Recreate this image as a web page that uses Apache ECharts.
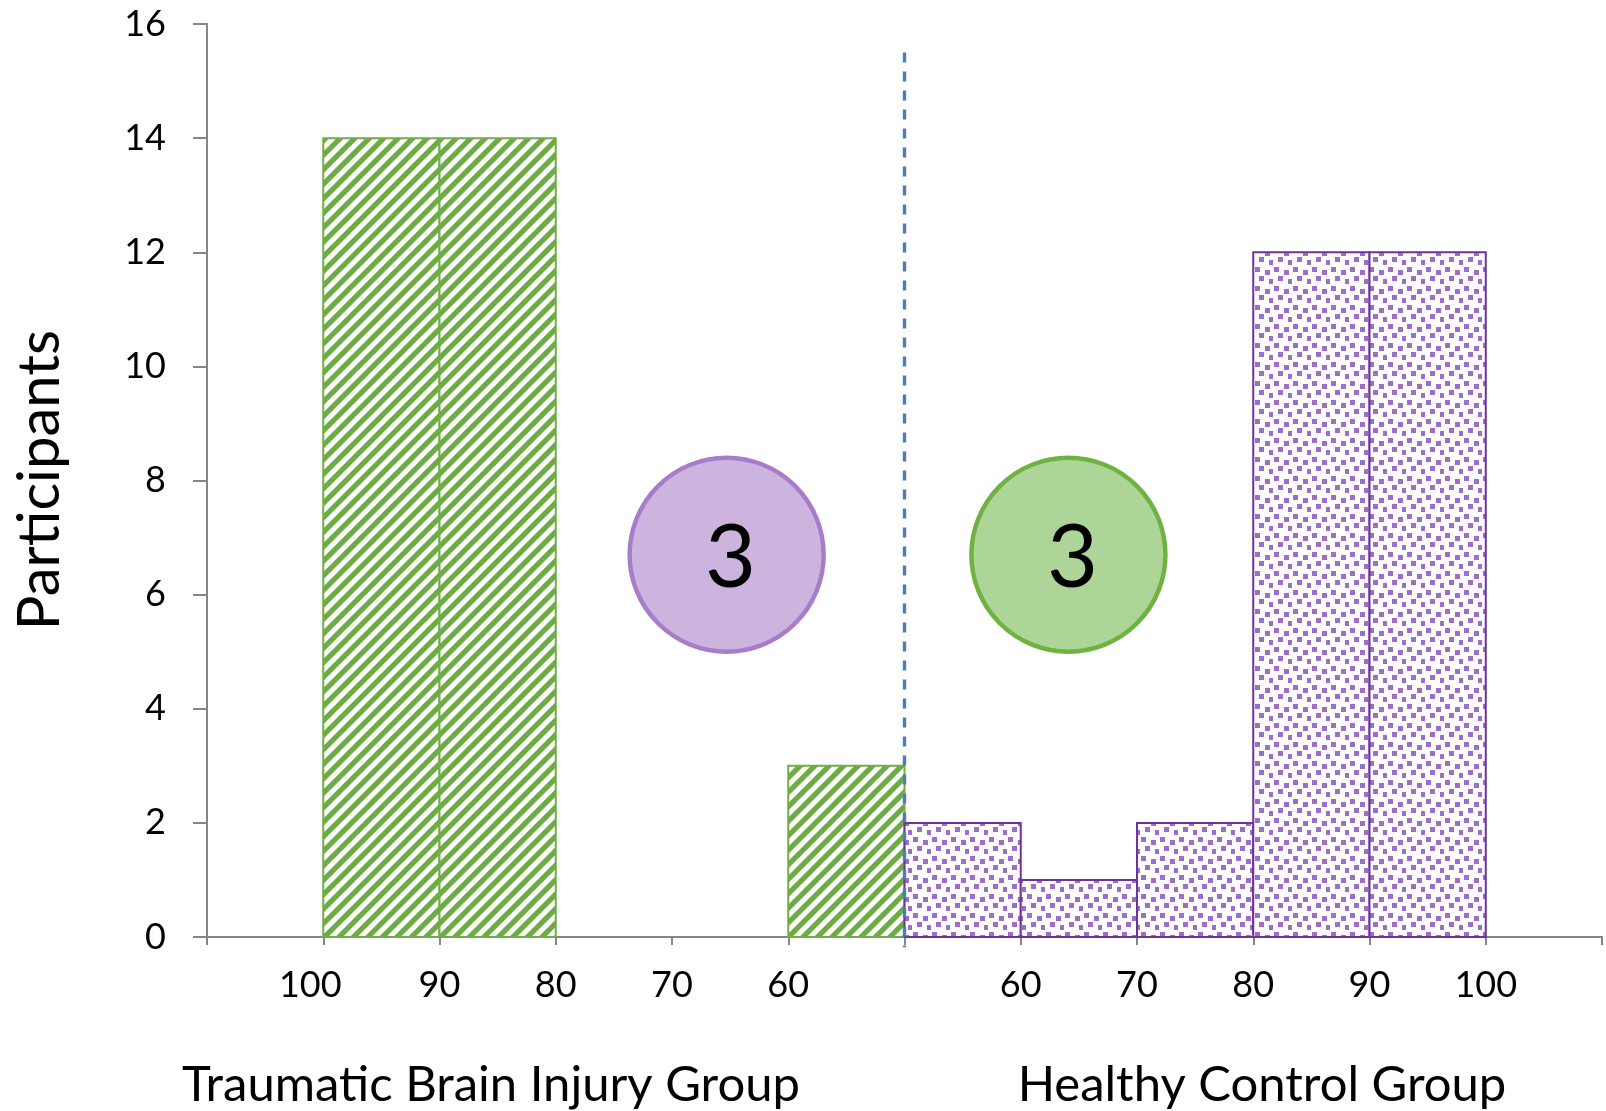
<!DOCTYPE html>
<html>
<head>
<meta charset="utf-8">
<title>Participants by score band</title>
<script src="https://cdn.jsdelivr.net/npm/echarts@6/dist/echarts.min.js"></script>
<style>
  html, body { margin: 0; padding: 0; background: #ffffff; }
  #chart { width: 1606px; height: 1111px; }
</style>
</head>
<body>
<div id="chart"></div>
<script>
// Score bands run along a shared axis: the injury group reads right-to-left
// (100 down to 60), the control group left-to-right (60 up to 100).
const xTickLabels = ['', '100', '90', '80', '70', '60', '', '60', '70', '80', '90', '100', ''];

// Slot index of each bar (left edge on the x axis) and its participant count.
const tbiSlots = [1, 2, 3, 4, 5];
const tbiCounts = [14, 14, 0, 0, 3];
const hcSlots = [6, 7, 8, 9, 10];
const hcCounts = [2, 1, 2, 12, 12];

const yTicks = { min: 0, max: 16, step: 2 };

// Boundary between the two groups, and its vertical extent (in participants).
const groupDivider = { x: 6, yTop: 15.5, yBottom: -0.18 };

// Callout badges: position in axis units and the number they show.
const badgeX = [4.47, 7.41];
const badgeY = [6.7, 6.7];
const badgeText = ['3', '3'];

const groupTitles = ['Traumatic Brain Injury Group', 'Healthy Control Group'];

const FONT = 'Lato, "Open Sans", "Liberation Sans", sans-serif';

// Diagonal hatch tile (wide upward diagonal) for the injury group.
function makeHatch() {
  const S = 29;
  const c = document.createElement('canvas');
  c.width = S; c.height = S;
  const g = c.getContext('2d');
  g.fillStyle = '#ffffff';
  g.fillRect(0, 0, S, S);
  g.strokeStyle = '#6DAB43';
  g.lineWidth = 5.2;
  for (let k = -1; k <= 5; k++) {
    const c0 = k * S / 2;
    g.beginPath();
    g.moveTo(-6, c0 + 6);
    g.lineTo(S + 6, c0 - S - 6);
    g.stroke();
  }
  return c;
}

// Confetti tile for the control group.
function makeConfetti() {
  const S = 19;
  const c = document.createElement('canvas');
  c.width = S; c.height = S;
  const g = c.getContext('2d');
  g.fillStyle = '#ffffff';
  g.fillRect(0, 0, S, S);
  g.fillStyle = '#9E6CCB';
  const dots = [[1, 1], [11, 4], [5, 10], [15, 13]];
  dots.forEach(([x, y]) => g.fillRect(x, y, 5, 5));
  return c;
}

const hatchFill = { image: makeHatch(), repeat: 'repeat' };
const confettiFill = { image: makeConfetti(), repeat: 'repeat' };

function barRenderer(fill, stroke) {
  return function (params, api) {
    const x = api.value(0);
    const v = api.value(1);
    if (!v) return null;
    const top = api.coord([x, v]);
    const base = api.coord([x + 1, 0]);
    return {
      type: 'rect',
      shape: { x: top[0], y: top[1], width: base[0] - top[0], height: base[1] - top[1] },
      style: { fill: fill, stroke: stroke, lineWidth: 2 }
    };
  };
}

const axisGray = '#868686';

const chart = echarts.init(document.getElementById('chart'), null, { renderer: 'canvas' });

chart.setOption({
  backgroundColor: '#ffffff',
  animation: false,
  textStyle: { fontFamily: FONT },
  grid: { left: 207, right: 4, top: 24, bottom: 174, containLabel: false },
  xAxis: {
    type: 'value',
    min: 0,
    max: xTickLabels.length - 1,
    interval: 1,
    splitLine: { show: false },
    axisLine: { show: true, lineStyle: { color: axisGray, width: 2 } },
    axisTick: { show: true, length: 8, lineStyle: { color: axisGray, width: 2 } },
    axisLabel: {
      show: true,
      showMinLabel: true,
      showMaxLabel: true,
      margin: 30,
      color: '#000000',
      fontFamily: FONT,
      fontSize: 36,
      formatter: function (v) {
        const t = xTickLabels[Math.round(v)] || '';
        return Math.round(v) === 1 ? '{edge|' + t + '}' : t;
      },
      rich: {
        edge: { fontFamily: FONT, fontSize: 36, color: '#000000', padding: [0, 26, 0, 0] }
      }
    }
  },
  yAxis: {
    type: 'value',
    min: yTicks.min,
    max: yTicks.max,
    interval: yTicks.step,
    splitLine: { show: false },
    axisLine: { show: true, lineStyle: { color: axisGray, width: 2 } },
    axisTick: { show: true, length: 14, lineStyle: { color: axisGray, width: 2 } },
    axisLabel: { margin: 41, color: '#000000', fontFamily: FONT, fontSize: 36 }
  },
  series: [
    {
      name: 'Traumatic Brain Injury Group',
      type: 'custom',
      renderItem: barRenderer(hatchFill, '#70AD47'),
      encode: { x: 0, y: 1 },
      data: tbiSlots.map((s, i) => [s, tbiCounts[i]]),
      z: 2
    },
    {
      name: 'Healthy Control Group',
      type: 'custom',
      renderItem: barRenderer(confettiFill, '#7030A0'),
      encode: { x: 0, y: 1 },
      data: hcSlots.map((s, i) => [s, hcCounts[i]]),
      z: 2
    },
    {
      name: 'divider',
      type: 'line',
      clip: false,
      symbol: 'none',
      silent: true,
      z: 5,
      lineStyle: { color: '#4A7EBB', width: 3.4, type: [10, 9] },
      data: [[groupDivider.x, groupDivider.yTop], [groupDivider.x, groupDivider.yBottom]]
    },
    {
      name: 'badges',
      type: 'scatter',
      symbol: 'circle',
      symbolSize: 194,
      z: 6,
      silent: true,
      data: badgeX.map((x, i) => ({
        value: [x, badgeY[i]],
        label: { formatter: badgeText[i] },
        itemStyle: i === 0
          ? { color: '#CDB4DE', borderColor: '#A77DC9', borderWidth: 4.5, opacity: 1 }
          : { color: '#AED598', borderColor: '#6EB240', borderWidth: 4.5, opacity: 1 }
      })),
      label: {
        show: true,
        position: 'inside',
        color: '#000000',
        fontFamily: FONT,
        fontSize: 88,
        offset: [4, 4]
      }
    }
  ],
  graphic: [
    {
      type: 'text',
      x: 40,
      y: 480,
      rotation: Math.PI / 2,
      style: {
        text: 'Participants',
        fill: '#000000',
        font: '58px ' + FONT,
        align: 'center',
        verticalAlign: 'middle'
      }
    },
    {
      type: 'text',
      x: 491,
      y: 1085,
      style: {
        text: groupTitles[0],
        fill: '#000000',
        font: '49px ' + FONT,
        align: 'center',
        verticalAlign: 'middle'
      }
    },
    {
      type: 'text',
      x: 1262,
      y: 1085,
      style: {
        text: groupTitles[1],
        fill: '#000000',
        font: '49px ' + FONT,
        align: 'center',
        verticalAlign: 'middle'
      }
    }
  ]
});
</script>
</body>
</html>
